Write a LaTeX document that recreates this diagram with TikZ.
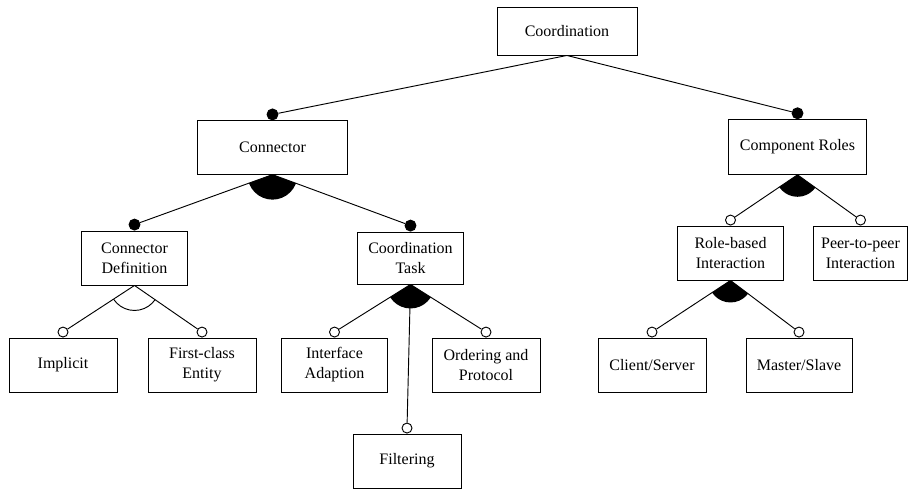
\documentclass[tikz,border=0pt]{standalone}
\usepackage{fontspec}
\setmainfont{Liberation Serif}
\usepackage{tikz}
\usetikzlibrary{calc}

\begin{document}
\begin{tikzpicture}[x=0.75pt,y=0.75pt,line width=0.7pt,
  feat/.style={draw,align=center,minimum width=81pt,minimum height=40.5pt,
    inner sep=1pt,font=\fontsize{12}{15}\selectfont},
  mand/.style={circle,draw,fill=black,inner sep=0pt,minimum size=8.2pt,anchor=south},
  opt/.style={circle,draw,fill=white,inner sep=0pt,minimum size=7.5pt,anchor=south}]
  \useasboundingbox (0,0) rectangle (910,489);
  % features
  \node [feat,minimum width=105pt,minimum height=36pt] (coord) at (567,458) {Coordination};
  \node [feat,minimum width=112pt,minimum height=40pt] (conn) at (272.5,341.5) {Connector};
  \node [feat,minimum width=104pt,minimum height=41pt] (roles) at (797.5,342) {Component Roles};
  \node [feat,minimum width=80pt] (def) at (134.5,231) {Connector\\Definition};
  \node [feat,minimum width=80pt,minimum height=39pt] (task) at (410.5,231) {Coordination\\Task};
  \node [feat,minimum width=80pt] (role) at (730.5,236) {Role-based\\Interaction};
  \node [feat,minimum width=71pt] (peer) at (860.5,236) {Peer-to-peer\\Interaction};
  \node [feat] (impl) at (63,124) {Implicit};
  \node [feat] (first) at (202,124) {First-class\\Entity};
  \node [feat,minimum width=80pt] (iface) at (334.5,124) {Interface\\Adaption};
  \node [feat] (order) at (486,124) {Ordering and\\Protocol};
  \node [feat] (filt) at (407,28) {Filtering};
  \node [feat] (client) at (652,124) {Client/Server};
  \node [feat,minimum width=79.5pt] (master) at (799,124) {Master/Slave};
  % markers
  \node [mand] (m-conn) at (conn.north) {};
  \node [mand] (m-roles) at (roles.north) {};
  \node [mand] (m-def) at (def.north) {};
  \node [mand] (m-task) at (task.north) {};
  \node [opt] (m-role) at (role.north) {};
  \node [opt] (m-peer) at (peer.north) {};
  \node [opt] (m-impl) at (impl.north) {};
  \node [opt] (m-first) at (first.north) {};
  \node [opt] (m-iface) at (iface.north) {};
  \node [opt] (m-order) at (order.north) {};
  \node [opt] (m-filt) at (filt.north) {};
  \node [opt] (m-client) at (client.north) {};
  \node [opt] (m-master) at (master.north) {};
  % groups
  \begin{scope}
    \clip (conn.south) -- (m-def.center) -- (m-task.center) -- cycle;
    \fill (conn.south) circle[radius=18.75pt];
  \end{scope}
  \begin{scope}
    \clip (roles.south) -- (m-role.center) -- (m-peer.center) -- cycle;
    \fill (roles.south) circle[radius=16.5pt];
  \end{scope}
  \begin{scope}
    \clip (task.south) -- (m-iface.center) -- (m-order.center) -- cycle;
    \fill (task.south) circle[radius=18pt];
  \end{scope}
  \begin{scope}
    \clip (role.south) -- (m-client.center) -- (m-master.center) -- cycle;
    \fill (role.south) circle[radius=16.5pt];
  \end{scope}
  \begin{scope}
    \clip (def.south) -- (m-impl.center) -- (m-first.center) -- cycle;
    \draw (def.south) circle[radius=18.75pt];
  \end{scope}
  % edges
  \draw (coord.south) -- (m-conn);
  \draw (coord.south) -- (m-roles);
  \draw (conn.south) -- (m-def);
  \draw (conn.south) -- (m-task);
  \draw (roles.south) -- (m-role);
  \draw (roles.south) -- (m-peer);
  \draw (def.south) -- (m-impl);
  \draw (def.south) -- (m-first);
  \draw (task.south) -- (m-iface);
  \draw (task.south) -- (m-filt);
  \draw (task.south) -- (m-order);
  \draw (role.south) -- (m-client);
  \draw (role.south) -- (m-master);
\end{tikzpicture}
\end{document}
